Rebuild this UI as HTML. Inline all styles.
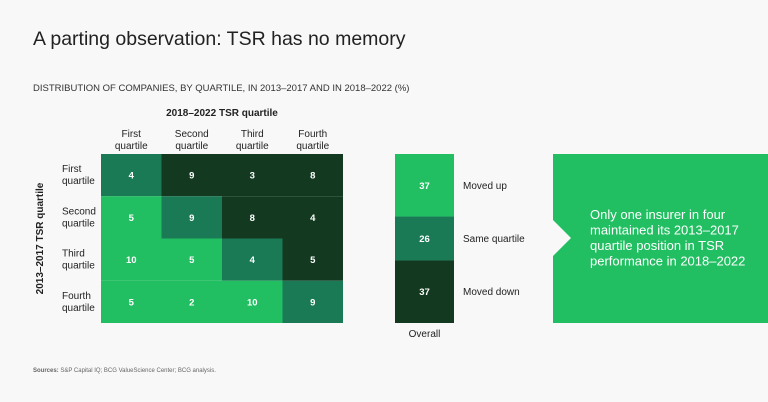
<!DOCTYPE html>
<html><head><meta charset="utf-8"><style>
body{margin:0;width:768px;height:402px;background:#f8f8f8;font-family:"Liberation Sans",sans-serif;color:#222;position:relative;overflow:hidden}
.t{position:absolute;white-space:nowrap}
</style></head><body>
<div class="t" style="left:33px;top:28px;font-size:19.5px;color:#222">A parting observation: TSR has no memory</div>
<div class="t" style="left:33px;top:83px;font-size:9.5px;color:#333">DISTRIBUTION OF COMPANIES, BY QUARTILE, IN 2013–2017 AND IN 2018–2022 (%)</div>
<div class="t" style="left:33px;top:368px;font-size:6px;color:#666"><b>Sources:</b> S&amp;P Capital IQ; BCG ValueScience Center; BCG analysis.</div>
<svg id="c" width="768" height="402" style="position:absolute;left:0;top:0"></svg>
<script>
const cols=["First|quartile","Second|quartile","Third|quartile","Fourth|quartile"];
const rows=["First|quartile","Second|quartile","Third|quartile","Fourth|quartile"];
const r1=[4,9,3,8];
const r2=[5,9,8,4];
const r3=[10,5,4,5];
const r4=[5,2,10,9];
const overallLabels=["Moved up","Same quartile","Moved down"];
const overallValues=[37,26,37];
const values=[r1,r2,r3,r4];
const LIGHT="#21bf61",MID="#1b7a56",DARK="#133a20";
const svg=document.getElementById('c');const NS="http://www.w3.org/2000/svg";
function mk(t,a,txt){const e=document.createElementNS(NS,t);for(const k in a)e.setAttribute(k,a[k]);if(txt!=null)e.textContent=txt;svg.appendChild(e);return e;}
const gx0=101,gx1=343,gy0=154,gy1=323;
const cw=(gx1-gx0)/cols.length,ch=(gy1-gy0)/rows.length;
const F='"Liberation Sans",sans-serif';
let e=mk('text',{x:(gx0+gx1)/2,y:116,'text-anchor':'middle','font-size':10,'font-weight':'bold',fill:'#222','font-family':F},'2018–2022 TSR quartile');


e=mk('text',{x:0,y:0,'text-anchor':'middle','font-size':10,'font-weight':'bold',fill:'#222','font-family':F,transform:`translate(43,${(gy0+gy1)/2}) rotate(-90)`},'2013–2017 TSR quartile');


cols.forEach((c,i)=>{const p=c.split('|');
 const t=mk('text',{x:gx0+cw*(i+0.5),y:137,'text-anchor':'middle','font-size':10,fill:'#222','font-family':F});
 
 
 p.forEach((s,k)=>{const ts=document.createElementNS(NS,'tspan');ts.setAttribute('x',gx0+cw*(i+0.5));ts.setAttribute('dy',k?12:0);ts.textContent=s;t.appendChild(ts);});});
rows.forEach((r,j)=>{const p=r.split('|');
 const t=mk('text',{x:62,y:gy0+ch*(j+0.5)-3,'font-size':10,fill:'#222','font-family':F});
 
 
 p.forEach((s,k)=>{const ts=document.createElementNS(NS,'tspan');ts.setAttribute('x',62);ts.setAttribute('dy',k?12:0);ts.textContent=s;t.appendChild(ts);});
 values[j].forEach((v,i)=>{const col=i<j?LIGHT:i==j?MID:DARK;
  const rc=mk('rect',{x:gx0+cw*i,y:gy0+ch*j,width:cw,height:ch,fill:col});
  
  
  const tx=mk('text',{x:gx0+cw*(i+0.5),y:gy0+ch*(j+0.5)+3.5,'text-anchor':'middle','font-size':9.5,'font-weight':'bold',fill:'#fff','font-family':F},v);
  
  });});
const tot=overallValues.reduce((a,b)=>a+b,0);const bx=395,bw=59;let y=gy0;const ocol=[LIGHT,MID,DARK];
overallValues.forEach((v,i)=>{const h=(gy1-gy0)*v/tot;
 const rc=mk('rect',{x:bx,y:y,width:bw,height:h,fill:ocol[i]});
 
 
 const tx=mk('text',{x:bx+bw/2,y:y+h/2+3.5,'text-anchor':'middle','font-size':9.5,'font-weight':'bold',fill:'#fff','font-family':F},v);
 
 
 const lb=mk('text',{x:463,y:y+h/2+3.5,'font-size':10,fill:'#222','font-family':F},overallLabels[i]);
 
 
 y+=h;});
e=mk('text',{x:bx+bw/2,y:337,'text-anchor':'middle','font-size':10,fill:'#222','font-family':F},'Overall');


e=mk('polygon',{points:`553,154 768,154 768,323 553,323 553,256 571,238 553,220`,fill:LIGHT});


const lines=["Only one insurer in four","maintained its 2013–2017","quartile position in TSR","performance in 2018–2022"];
lines.forEach((s,i)=>{const t=mk('text',{x:590,y:219+i*15.5,'font-size':13,fill:'#fff','font-family':F},s);
 
 });
</script>
</body></html>
